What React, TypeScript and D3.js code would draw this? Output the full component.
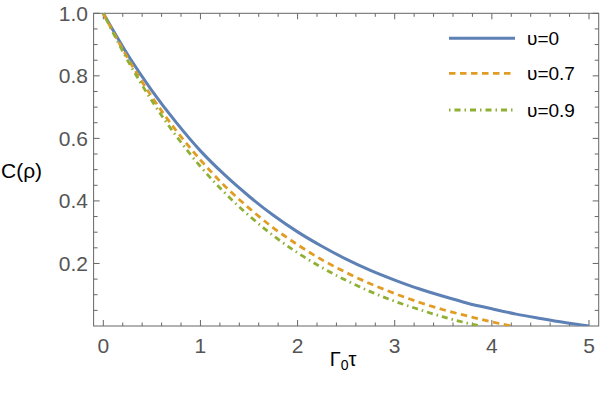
import React from "react";
import * as d3 from "d3";

const tBlue = [0, 0.25, 0.5, 0.75, 1, 1.25, 1.5, 1.75, 2, 2.25, 2.5, 2.75, 3, 3.25, 3.5, 3.75, 4, 4.25, 4.5, 4.75, 5];
const cBlue = [1, 0.868, 0.753, 0.651, 0.56, 0.483, 0.415, 0.354, 0.301, 0.255, 0.214, 0.178, 0.147, 0.119, 0.095, 0.073, 0.055, 0.038, 0.024, 0.011, 0];
const tOrange = [0, 0.25, 0.5, 0.75, 1, 1.25, 1.5, 1.75, 2, 2.25, 2.5, 2.75, 3, 3.25, 3.5, 3.75, 4, 4.21];
const cOrange = [1, 0.857, 0.733, 0.625, 0.531, 0.448, 0.377, 0.314, 0.26, 0.212, 0.171, 0.135, 0.104, 0.076, 0.052, 0.032, 0.013, 0];
const tGreen = [0, 0.25, 0.5, 0.75, 1, 1.25, 1.5, 1.75, 2, 2.25, 2.5, 2.75, 3, 3.25, 3.5, 3.75, 3.88];
const cGreen = [1, 0.85, 0.72, 0.608, 0.51, 0.426, 0.353, 0.289, 0.234, 0.187, 0.146, 0.11, 0.079, 0.053, 0.029, 0.009, 0];

const xTicks = [0, 1, 2, 3, 4, 5];
const yTicks = [0.2, 0.4, 0.6, 0.8, 1.0];
const yTickLabels = ["0.2", "0.4", "0.6", "0.8", "1.0"];
const legendLabels = ["υ=0", "υ=0.7", "υ=0.9"];

const colors = ["#5E81B5", "#E19C24", "#8FB032"];
const dashes = ["none", "6.5,4.5", "1.5,4,6,4"];

const FONT = "'Liberation Sans', Arial, sans-serif";

export default function App() {
  const W = 600, H = 393;
  const x = d3.scaleLinear().domain([-0.1, 5.1]).range([93.6, 598.7]);
  const y = d3.scaleLinear().domain([0, 1]).range([326, 13.3]);
  const line = d3.line<[number, number]>().x(d => x(d[0])).y(d => y(d[1])).curve(d3.curveMonotoneX);

  const series: [number, number][][] = [
    tBlue.map((t, i) => [t, cBlue[i]] as [number, number]),
    tOrange.map((t, i) => [t, cOrange[i]] as [number, number]),
    tGreen.map((t, i) => [t, cGreen[i]] as [number, number]),
  ];

  const xMinor = d3.range(0, 5.01, 0.2).filter(v => Math.abs(v - Math.round(v)) > 1e-6);
  const yMinor = d3.range(0.05, 1.0, 0.05).filter(v => Math.abs(v * 5 - Math.round(v * 5)) > 1e-6);

  const x0 = x(-0.1), x1 = x(5.1), y0 = y(0), y1 = y(1);
  const axisColor = "#666";

  return (
    <svg width={W} height={H} style={{ position: "absolute", left: 0, top: 0, background: "#fff" }} fontFamily={FONT}>
      <rect x={0} y={0} width={W} height={H} fill="#fff" />
      <defs>
        <clipPath id="plotclip">
          <rect x={x0} y={y1 - 3} width={x1 - x0} height={y0 - y1 + 3} />
        </clipPath>
      </defs>
      {/* frame */}
      <rect x={x0} y={y1} width={x1 - x0} height={y0 - y1} fill="none" stroke={axisColor} strokeWidth={1} />
      {/* x ticks */}
      {xTicks.map(v => (
        <g key={"xt" + v}>
          <line x1={x(v)} x2={x(v)} y1={y0} y2={y0 - 6} stroke={axisColor} />
          <line x1={x(v)} x2={x(v)} y1={y1} y2={y1 + 6} stroke={axisColor} />
          <text x={x(v)} y={352.5} textAnchor="middle" fontSize={21} fill="#555">{v}</text>
        </g>
      ))}
      {xMinor.map(v => (
        <g key={"xm" + v}>
          <line x1={x(v)} x2={x(v)} y1={y0} y2={y0 - 3.5} stroke={axisColor} />
          <line x1={x(v)} x2={x(v)} y1={y1} y2={y1 + 3.5} stroke={axisColor} />
        </g>
      ))}
      {/* y ticks */}
      {yTicks.map((v, i) => (
        <g key={"yt" + v}>
          <line x1={x0} x2={x0 + 6} y1={y(v)} y2={y(v)} stroke={axisColor} />
          <line x1={x1} x2={x1 - 6} y1={y(v)} y2={y(v)} stroke={axisColor} />
          <text x={88} y={y(v) + 7.5} textAnchor="end" fontSize={21} fill="#555">{yTickLabels[i]}</text>
        </g>
      ))}
      {yMinor.map(v => (
        <g key={"ym" + v}>
          <line x1={x0} x2={x0 + 4} y1={y(v)} y2={y(v)} stroke={axisColor} />
          <line x1={x1} x2={x1 - 4} y1={y(v)} y2={y(v)} stroke={axisColor} />
        </g>
      ))}
      {/* curves */}
      <g clipPath="url(#plotclip)">
        {series.map((s, i) => (
          <path key={"s" + i} d={line(s) || ""} fill="none" stroke={colors[i]} strokeWidth={i === 0 ? 3 : 2.8}
            strokeDasharray={dashes[i]} />
        ))}
      </g>
      {/* legend */}
      {legendLabels.map((lab, i) => {
        const ly = [38.3, 73.3, 110][i];
        return (
          <g key={"lg" + i}>
            <line x1={449} x2={515} y1={ly} y2={ly} stroke={colors[i]} strokeWidth={i === 0 ? 3 : 2.8} strokeDasharray={dashes[i]} />
            <text x={527} y={ly + 6.8} fontSize={19} fill="#000">{lab}</text>
          </g>
        );
      })}
      {/* axis labels */}
      <text x={1} y={178} fontSize={21} fill="#000">C(ρ)</text>
      <text x={343} y={366} textAnchor="middle" fontSize={20} fill="#000">
        Γ<tspan fontSize={14} dy={4}>0</tspan><tspan dy={-4}>τ</tspan>
      </text>
    </svg>
  );
}
